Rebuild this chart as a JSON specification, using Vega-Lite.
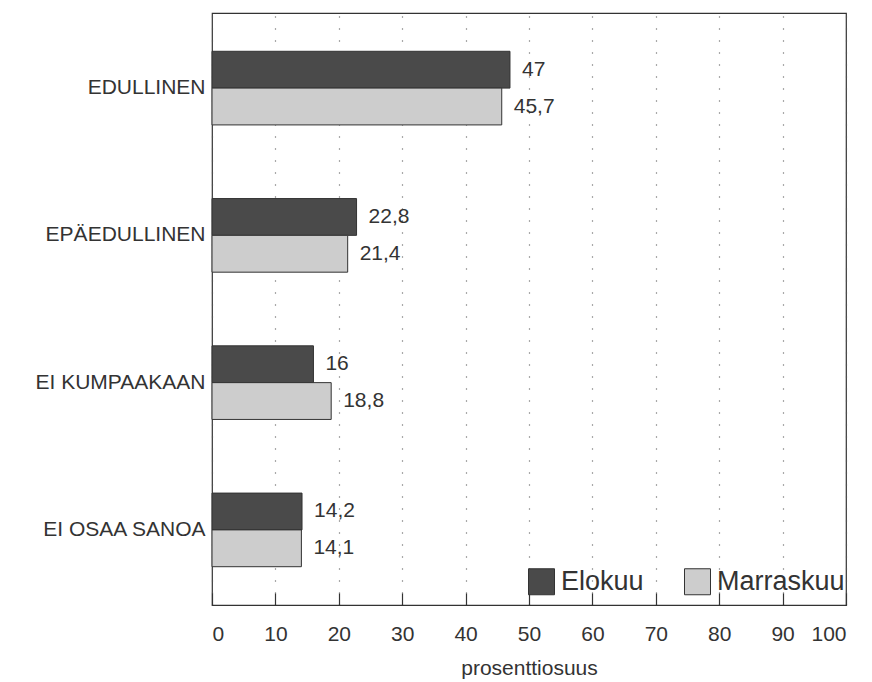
{
  "$schema": "https://vega.github.io/schema/vega-lite/v6.json",
  "width": 634,
  "height": 592,
  "autosize": "none",
  "padding": {"left": 212, "top": 13, "right": 26, "bottom": 77},
  "background": "white",
  "config": {
    "locale": {"number": {"decimal": ",", "thousands": " ", "grouping": [3], "currency": ["", " €"]}},
    "font": "Liberation Sans",
    "view": {"stroke": "#333", "strokeWidth": 1.2}
  },
  "data": {
    "values": [
      {"vastaus": "EDULLINEN", "kausi": "Elokuu", "osuus": 47},
      {"vastaus": "EDULLINEN", "kausi": "Marraskuu", "osuus": 45.7},
      {"vastaus": "EPÄEDULLINEN", "kausi": "Elokuu", "osuus": 22.8},
      {"vastaus": "EPÄEDULLINEN", "kausi": "Marraskuu", "osuus": 21.4},
      {"vastaus": "EI KUMPAAKAAN", "kausi": "Elokuu", "osuus": 16},
      {"vastaus": "EI KUMPAAKAAN", "kausi": "Marraskuu", "osuus": 18.8},
      {"vastaus": "EI OSAA SANOA", "kausi": "Elokuu", "osuus": 14.2},
      {"vastaus": "EI OSAA SANOA", "kausi": "Marraskuu", "osuus": 14.1}
    ]
  },
  "encoding": {
    "y": {
      "field": "vastaus", "type": "nominal", "sort": null,
      "scale": {"paddingInner": 0.5, "paddingOuter": 0.26},
      "axis": {"title": null, "ticks": false, "domain": false, "labelFontSize": 21, "labelColor": "#333", "labelPadding": 7}
    },
    "yOffset": {"field": "kausi", "type": "nominal", "sort": ["Elokuu", "Marraskuu"]}
  },
  "resolve": {"axis": {"x": "independent"}},
  "layer": [
    {
      "mark": {"type": "bar", "stroke": "#333", "strokeWidth": 1},
      "encoding": {
        "x": {
          "field": "osuus", "type": "quantitative",
          "scale": {"domain": [0, 100], "nice": false},
          "axis": {
            "title": "prosenttiosuus", "titleFontSize": 21, "titleFontWeight": "normal", "titleColor": "#333", "titlePadding": 13,
            "values": [0, 10, 20, 30, 40, 50, 60, 70, 80, 90, 100],
            "labelFontSize": 21, "labelColor": "#333", "labelPadding": 18,
            "ticks": false, "domainColor": "#333", "domainWidth": 1.2,
            "grid": true, "gridColor": "#555", "gridDash": [1, 11], "gridWidth": 1.2
          }
        },
        "color": {
          "field": "kausi", "type": "nominal",
          "scale": {"domain": ["Elokuu", "Marraskuu"], "range": ["#4a4a4a", "#cdcdcd"]},
          "legend": {
            "title": null, "orient": "none", "direction": "horizontal",
            "legendX": 316, "legendY": 555,
            "symbolType": "square", "symbolSize": 676, "symbolStrokeColor": "#333", "symbolStrokeWidth": 1,
            "labelFontSize": 27, "labelColor": "#333", "labelOffset": 6, "columnPadding": 38
          }
        }
      }
    },
    {
      "mark": {"type": "text", "align": "left", "dx": 12, "fontSize": 21, "color": "#333"},
      "encoding": {
        "x": {
          "field": "osuus", "type": "quantitative",
          "axis": {
            "orient": "top", "offset": -592, "title": null, "labels": false, "domain": false, "grid": false,
            "values": [0, 10, 20, 30, 40, 50, 60, 70, 80, 90, 100],
            "ticks": true, "tickSize": 12, "tickColor": "#333", "tickWidth": 1.2
          }
        },
        "text": {"field": "osuus", "type": "quantitative", "format": ".1~f"}
      }
    }
  ]
}
